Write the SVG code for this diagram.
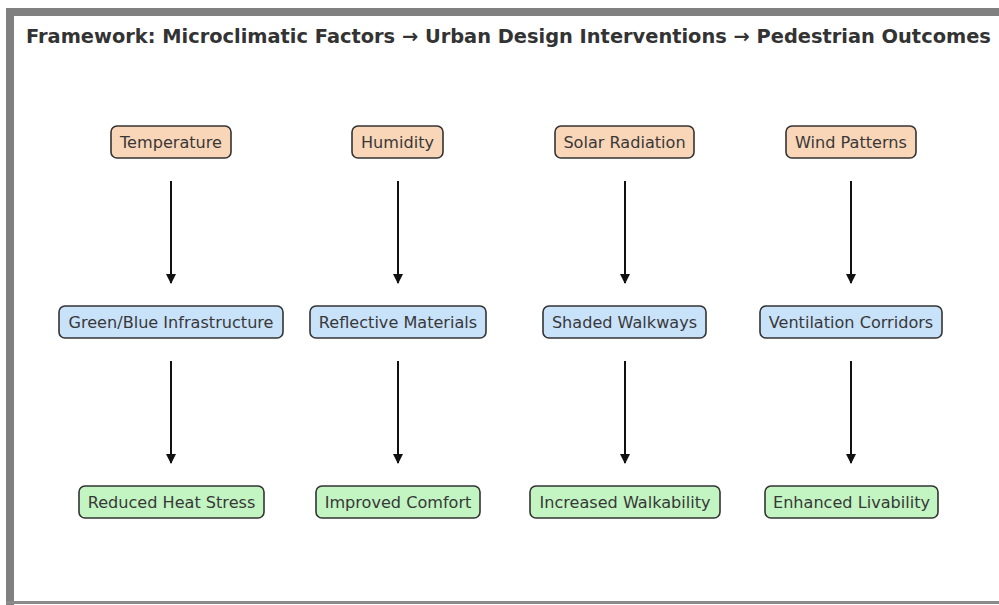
<svg xmlns="http://www.w3.org/2000/svg" width="999" height="605" viewBox="0 0 999 605">
  <style>
    .title { font-family: "DejaVu Sans", "Liberation Sans", sans-serif; font-weight: bold; font-size: 19.4px; fill: #333333; }
    .box { stroke: #333333; stroke-width: 1.6; }
    .factor { fill: #f9d6b8; }
    .design { fill: #c8e2fa; }
    .outcome { fill: #c2f5c2; }
    .label { font-family: "DejaVu Sans", "Liberation Sans", sans-serif; font-size: 16.1px; fill: #383838; text-anchor: middle; dominant-baseline: central; }
    .link { stroke: #111111; stroke-width: 2; fill: none; marker-end: url(#head); }
  </style>
  <defs>
    <marker id="head" viewBox="0 0 10 10" refX="9" refY="5" markerWidth="5" markerHeight="5.5" orient="auto" markerUnits="strokeWidth">
      <path d="M0,0 L10,5 L0,10 z" fill="#111111"/>
    </marker>
  </defs>

  <!-- page frame -->
  <rect x="0" y="0" width="999" height="605" fill="#ffffff"/>
  <rect x="6" y="8" width="993" height="8" fill="#808080"/>
  <rect x="6" y="8" width="8" height="597" fill="#808080"/>
  <rect x="6" y="601" width="993" height="3" fill="#8a8a8a"/>

  <text class="title" x="26" y="43">Framework: Microclimatic Factors → Urban Design Interventions → Pedestrian Outcomes</text>

  <!-- connectors -->
  <g id="connectors">
    <line class="link" x1="171" y1="181" x2="171" y2="283"/>
    <line class="link" x1="398" y1="181" x2="398" y2="283"/>
    <line class="link" x1="625" y1="181" x2="625" y2="283"/>
    <line class="link" x1="851" y1="181" x2="851" y2="283"/>
    <line class="link" x1="171" y1="361" x2="171" y2="463"/>
    <line class="link" x1="398" y1="361" x2="398" y2="463"/>
    <line class="link" x1="625" y1="361" x2="625" y2="463"/>
    <line class="link" x1="851" y1="361" x2="851" y2="463"/>
  </g>

  <!-- microclimatic factors -->
  <g id="temperature">
    <rect class="box factor" x="111" y="126" width="120" height="32" rx="6"/>
    <text class="label" x="171" y="142">Temperature</text>
  </g>
  <g id="humidity">
    <rect class="box factor" x="352" y="126" width="91" height="32" rx="6"/>
    <text class="label" x="397.5" y="142">Humidity</text>
  </g>
  <g id="solar-radiation">
    <rect class="box factor" x="555" y="126" width="139" height="32" rx="6"/>
    <text class="label" x="624.5" y="142">Solar Radiation</text>
  </g>
  <g id="wind-patterns">
    <rect class="box factor" x="786" y="126" width="130" height="32" rx="6"/>
    <text class="label" x="851" y="142">Wind Patterns</text>
  </g>

  <!-- urban design interventions -->
  <g id="green-blue-infrastructure">
    <rect class="box design" x="59" y="306" width="224" height="32" rx="6"/>
    <text class="label" x="171" y="322">Green/Blue Infrastructure</text>
  </g>
  <g id="reflective-materials">
    <rect class="box design" x="310" y="306" width="176" height="32" rx="6"/>
    <text class="label" x="398" y="322">Reflective Materials</text>
  </g>
  <g id="shaded-walkways">
    <rect class="box design" x="543" y="306" width="163" height="32" rx="6"/>
    <text class="label" x="624.5" y="322">Shaded Walkways</text>
  </g>
  <g id="ventilation-corridors">
    <rect class="box design" x="760" y="306" width="182" height="32" rx="6"/>
    <text class="label" x="851" y="322">Ventilation Corridors</text>
  </g>

  <!-- pedestrian outcomes -->
  <g id="reduced-heat-stress">
    <rect class="box outcome" x="79" y="486" width="185" height="32" rx="6"/>
    <text class="label" x="171.5" y="502">Reduced Heat Stress</text>
  </g>
  <g id="improved-comfort">
    <rect class="box outcome" x="316" y="486" width="164" height="32" rx="6"/>
    <text class="label" x="398" y="502">Improved Comfort</text>
  </g>
  <g id="increased-walkability">
    <rect class="box outcome" x="530" y="486" width="190" height="32" rx="6"/>
    <text class="label" x="625" y="502">Increased Walkability</text>
  </g>
  <g id="enhanced-livability">
    <rect class="box outcome" x="765" y="486" width="173" height="32" rx="6"/>
    <text class="label" x="851.5" y="502">Enhanced Livability</text>
  </g>
</svg>
